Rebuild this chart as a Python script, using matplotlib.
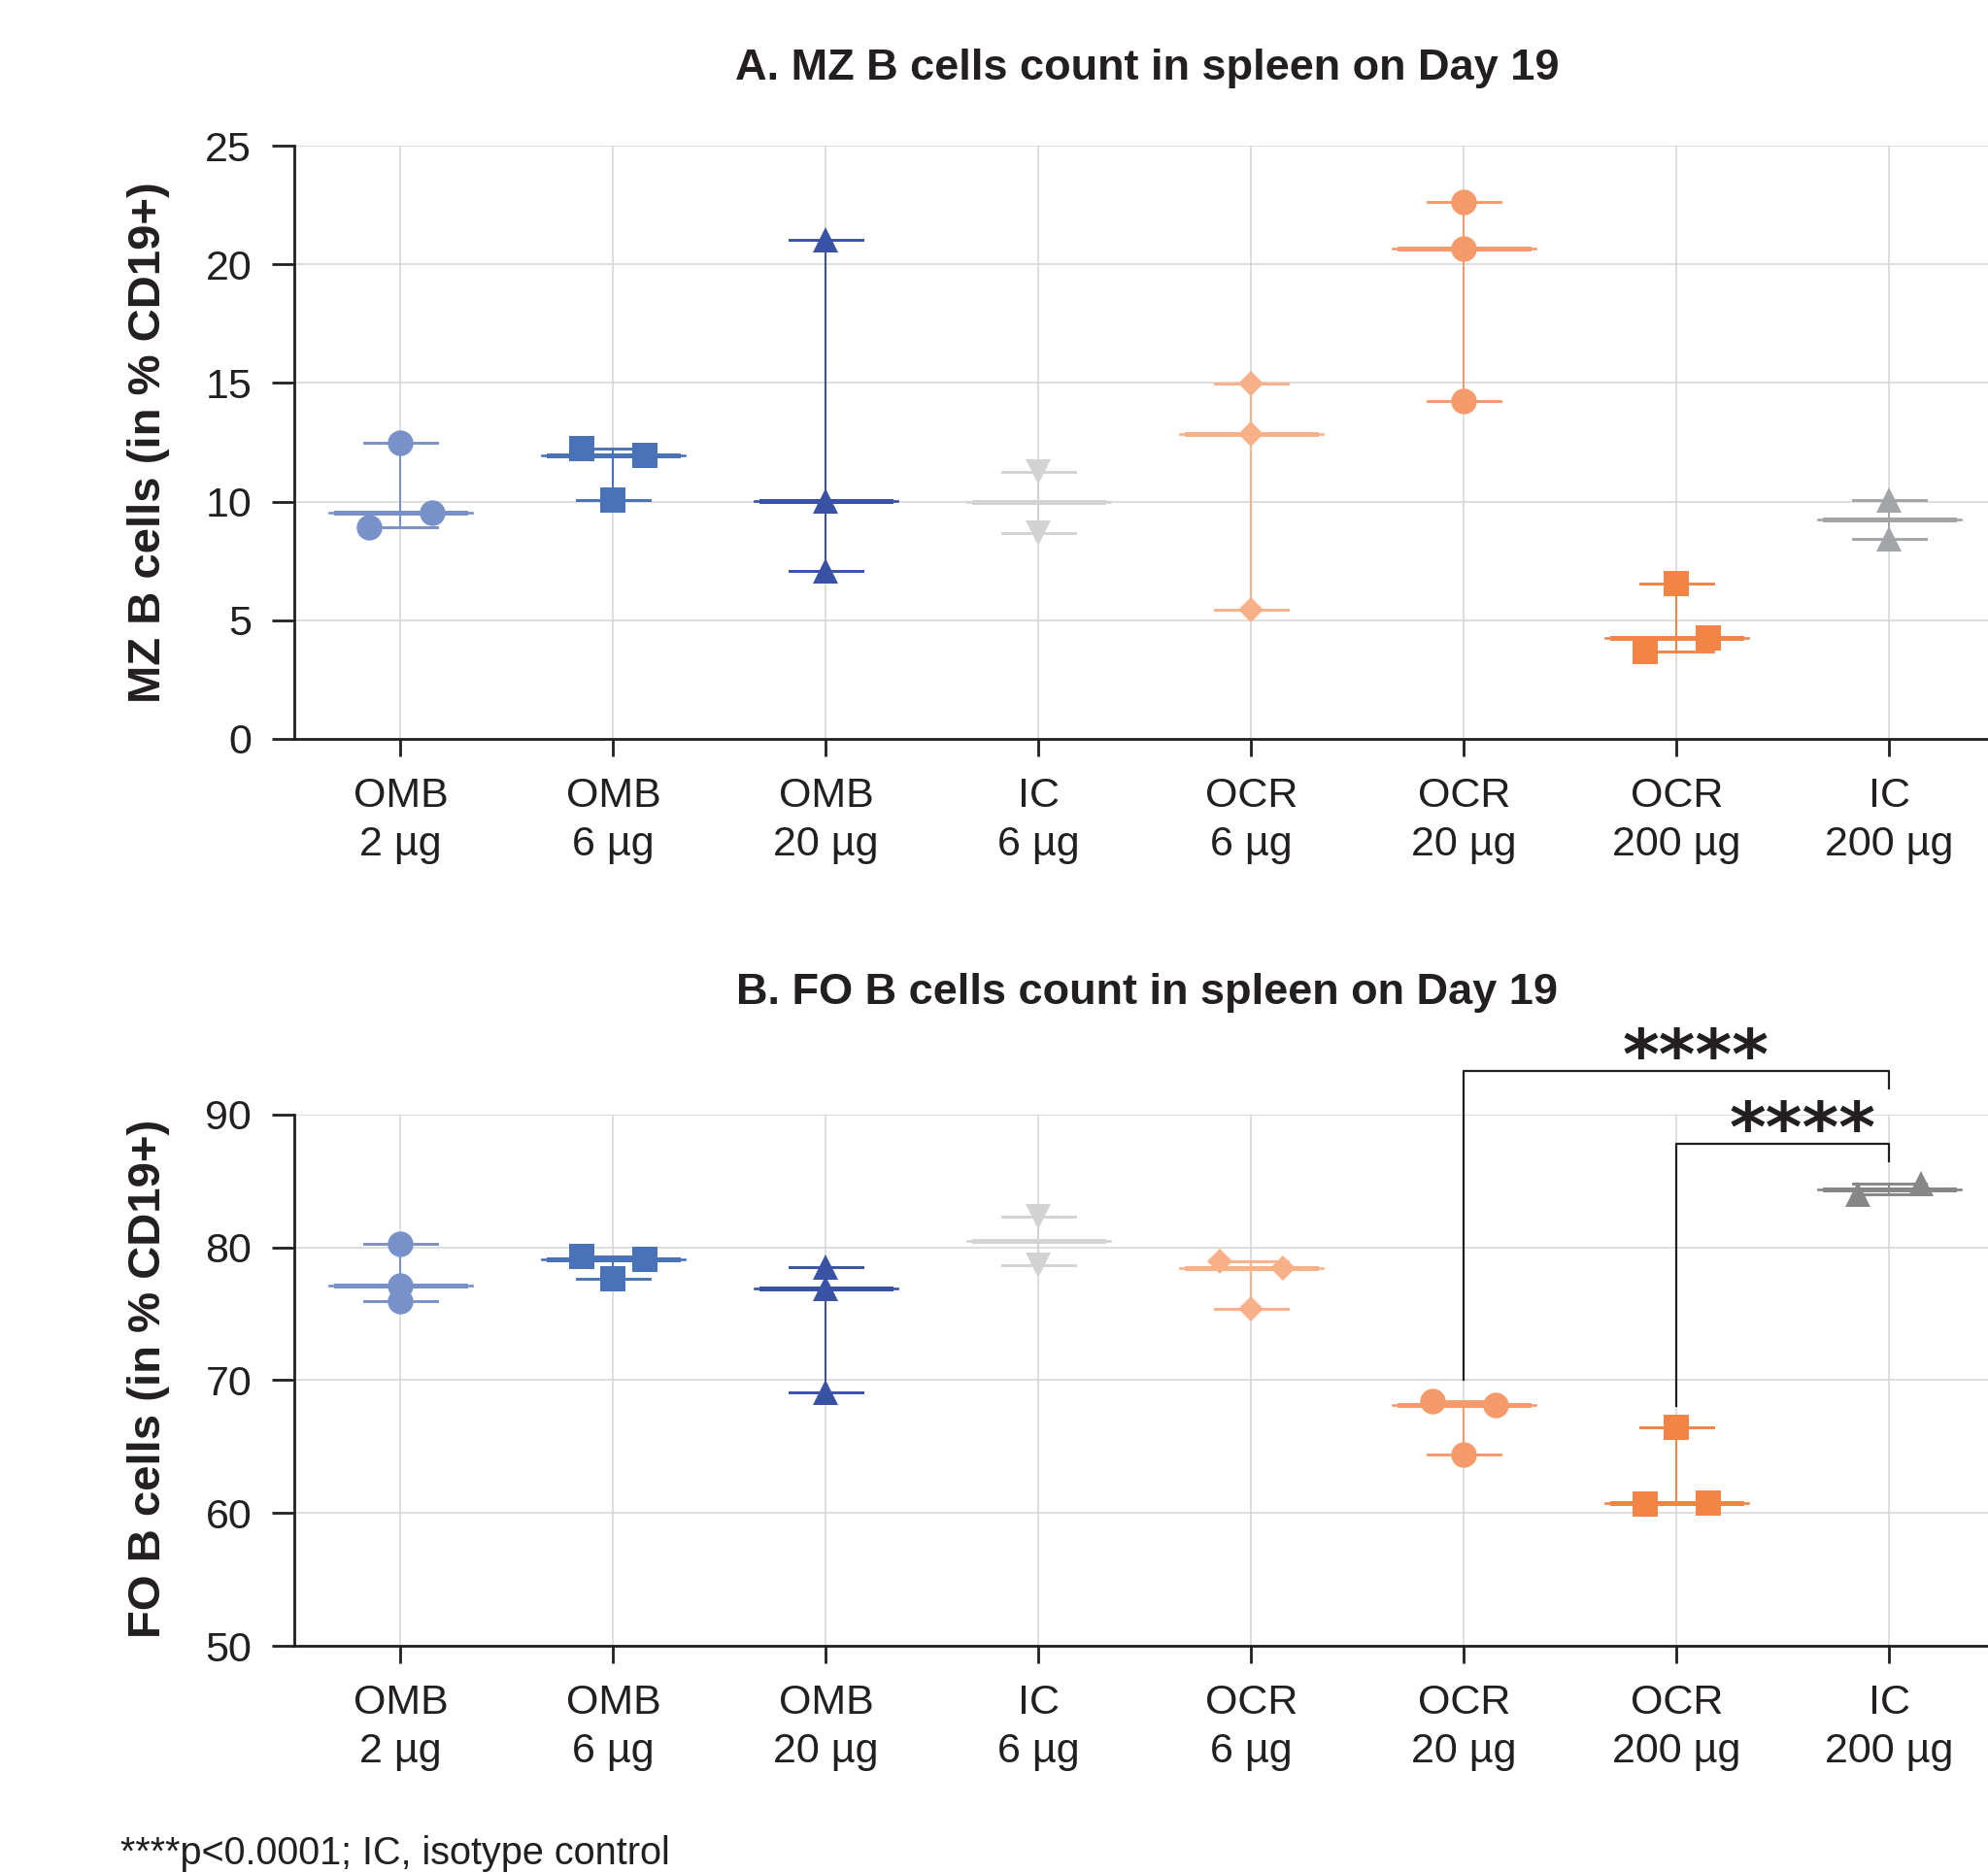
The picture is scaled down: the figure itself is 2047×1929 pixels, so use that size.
import matplotlib
matplotlib.use('Agg')
import matplotlib.pyplot as plt
import numpy as np

plt.rcParams['font.family'] = ['Liberation Sans', 'DejaVu Sans']

groups = ['OMB\n2 µg', 'OMB\n6 µg', 'OMB\n20 µg', 'IC\n6 µg',
          'OCR\n6 µg', 'OCR\n20 µg', 'OCR\n200 µg', 'IC\n200 µg']

# one list per group; colliding points are laid out left to right in list order
mz_cells = [
    [8.91, 12.47, 9.53],
    [12.25, 10.06, 11.96],
    [21.05, 10.04, 7.06],
    [11.27, 8.69],
    [14.96, 12.84, 5.46],
    [22.65, 20.66, 14.25],
    [3.70, 6.55, 4.24],
    [10.07, 8.44],
]
fo_cells = [
    [80.24, 77.15, 75.97],
    [79.33, 77.66, 79.13],
    [78.53, 76.92, 69.06],
    [82.32, 78.63],
    [78.93, 75.40, 78.43],
    [68.41, 64.43, 68.14],
    [60.68, 66.45, 60.75],
    [84.00, 84.79],
]
# (group a, group b, bracket height)
fo_comparisons = [(5, 7, 93.3), (6, 7, 87.8)]
fo_stars = ['****', '****']

mz_colors = ['#7891C8', '#4A72B8', '#3952A4', '#D3D3D3',
             '#F8B089', '#F59A6A', '#F28445', '#A3A4A7']
fo_colors = mz_colors[:-1] + ['#878787']
markers = ['o', 's', '^', 'v', 'D', 'o', 's', '^']

INK = '#231F20'


def spread(values, close):
    offsets = [0.0] * len(values)
    order = sorted(range(len(values)), key=lambda i: values[i])
    clusters = [[order[0]]]
    for i in order[1:]:
        if values[i] - values[clusters[-1][-1]] < close:
            clusters[-1].append(i)
        else:
            clusters.append([i])
    for c in clusters:
        c = sorted(c)
        for k, i in enumerate(c):
            offsets[i] = (k - (len(c) - 1) / 2) * 0.3
    return offsets


def draw_panel(ax, data, colors, close, ylim, step):
    for x, (vals, color, marker) in enumerate(zip(data, colors, markers)):
        lo, hi, med = min(vals), max(vals), np.median(vals)
        ax.plot([x, x], [lo, hi], color=color, lw=1.5, zorder=3)
        for v in (lo, hi):
            ax.plot([x - 0.17, x + 0.17], [v, v], color=color, lw=2.1, zorder=3)
        ax.plot([x - 0.335, x + 0.335], [med, med], color=color, lw=1.9, zorder=3)
        ax.plot([x - 0.305, x + 0.305], [med, med], color=color, lw=3.6, zorder=3)
        size = 13.5 if marker == 'D' else 19
        xs = x + np.array(spread(vals, close))
        ax.plot(xs, vals, ls='none', marker=marker, ms=size, color=color,
                mew=0, zorder=4)

    ax.set_xlim(-0.5, 7.5)
    ax.set_ylim(*ylim)
    ax.set_yticks(np.arange(ylim[0], ylim[1] + 1, step))
    ax.set_xticks(range(len(groups)), groups)
    ax.grid(True, color='#D4D4D4', lw=1.1)
    ax.set_axisbelow(True)
    for side in ('top', 'right'):
        ax.spines[side].set_visible(False)
    for side in ('left', 'bottom'):
        ax.spines[side].set_linewidth(2)
        ax.spines[side].set_color(INK)
    ax.tick_params(axis='x', length=13, width=2, pad=15, labelsize=31,
                   color=INK, labelcolor=INK)
    ax.tick_params(axis='y', length=16.5, width=2, pad=15, labelsize=31,
                   color=INK, labelcolor=INK)
    for lab in ax.get_xticklabels():
        lab.set_linespacing(1.32)


fig = plt.figure(figsize=(20.47, 19.29), dpi=100)
ax1 = fig.add_axes([0.1480, 0.6055, 0.8559, 0.3167])
ax2 = fig.add_axes([0.1480, 0.1213, 0.8559, 0.2836])

draw_panel(ax1, mz_cells, mz_colors, 1.0, (0, 25), 5)
draw_panel(ax2, fo_cells, fo_colors, 0.9, (50, 90), 10)

# significance brackets
for (a, b, top), stars in zip(fo_comparisons, fo_stars):
    left_bottom = max(fo_cells[a]) + 1.6
    right_bottom = top - 1.35
    ax2.plot([a, a, b, b], [left_bottom, top, top, right_bottom],
             color=INK, lw=1.6, clip_on=False, zorder=5)
    ax2.text((a + b) / 2 + 0.09, top - 0.6, stars, ha='center', va='baseline',
             fontsize=52, fontweight='bold', family='DejaVu Sans', color=INK,
             clip_on=False)

fig.text(0.577, 0.9637, 'A. MZ B cells count in spleen on Day 19',
         ha='center', va='center', fontsize=32.5, fontweight='bold', color=INK)
fig.text(0.577, 0.4697, 'B. FO B cells count in spleen on Day 19',
         ha='center', va='center', fontsize=32.5, fontweight='bold', color=INK)
fig.text(0.0747, 0.7638, 'MZ B cells (in % CD19+)', rotation=90,
         ha='center', va='center', fontsize=34, fontweight='bold', color=INK)
fig.text(0.0747, 0.2637, 'FO B cells (in % CD19+)', rotation=90,
         ha='center', va='center', fontsize=34, fontweight='bold', color=INK)
fig.text(124 / 2047, 20 / 1929, '****p<0.0001; IC, isotype control',
         ha='left', va='center', fontsize=28.5, color=INK)

fig.savefig('out.png', dpi=100)
